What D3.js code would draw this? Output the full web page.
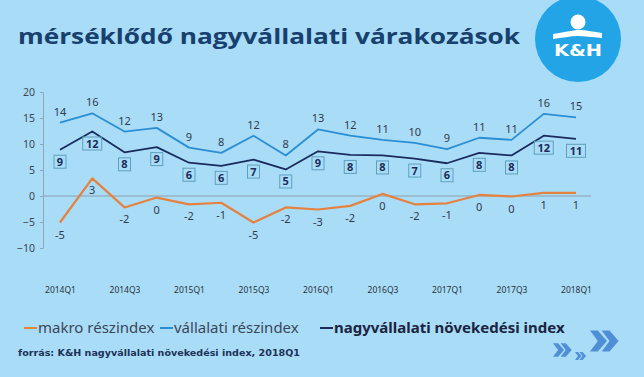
<!DOCTYPE html>
<html>
<head>
<meta charset="utf-8">
<script src="https://cdn.jsdelivr.net/npm/d3@7"></script>
<style>
  html, body { margin: 0; padding: 0; background: #a9dcf7; }
  svg { display: block; }
</style>
</head>
<body>
<svg id="chart" width="644" height="377"></svg>
<script>
// quarters 2014Q1 .. 2018Q1
var quarters = ["2014Q1","2014Q2","2014Q3","2014Q4","2015Q1","2015Q2","2015Q3","2015Q4",
                "2016Q1","2016Q2","2016Q3","2016Q4","2017Q1","2017Q2","2017Q3","2017Q4","2018Q1"];
var makro = [-5.1, 3.4, -2.2, -0.3, -1.6, -1.3, -5.1, -2.2, -2.6, -1.9, 0.4, -1.6, -1.4, 0.2, -0.1, 0.6, 0.6];
var vallalati = [14.1, 15.9, 12.4, 13.1, 9.3, 8.3, 11.6, 7.8, 12.8, 11.6, 10.8, 10.2, 9.0, 11.2, 10.8, 15.8, 15.1];
var nagy = [8.9, 12.4, 8.4, 9.4, 6.4, 5.8, 7.0, 5.1, 8.6, 7.9, 7.8, 7.2, 6.3, 8.3, 7.8, 11.6, 11.0];
var yTicks = [-10, -5, 0, 5, 10, 15, 20];
var legendNames = ["makro részindex", "vállalati részindex", "nagyvállalati növekedési index"];

var colOrange = "#e5823f", colLight = "#2a8ed3", colDark = "#1b2c5c";

var svg = d3.select("#chart");

// title
svg.append("text")
  .attr("x", 18).attr("y", 44)
  .attr("font-family", "Open Sans").attr("font-weight", "bold")
  .attr("font-size", 22).attr("fill", "#17406e")
  .attr("textLength", 502).attr("lengthAdjust", "spacingAndGlyphs")
  .text("mérséklődő nagyvállalati várakozások");

// K&H logo
var logo = svg.append("g").attr("transform", "translate(578,39)");
logo.append("circle").attr("r", 43).attr("fill", "#22a4e6");
logo.append("circle").attr("cx", 0).attr("cy", -17).attr("r", 7.5).attr("fill", "#fff");
logo.append("path")
  .attr("d", "M-25,-5 C-12,-7 -4,-9 2,-9 C8,-9 16,-7 24,-6 L24,-1 C14,-2 6,-3 0,-3 C-8,-3 -16,-1 -25,0 Z")
  .attr("fill", "#fff");
logo.append("text").attr("x", 0).attr("y", 17)
  .attr("text-anchor", "middle").attr("font-family", "DejaVu Sans").attr("font-weight", "bold")
  .attr("font-size", 16).attr("fill", "#fff")
  .attr("textLength", 48).attr("lengthAdjust", "spacingAndGlyphs")
  .text("K&H");

// scales
var x = d3.scalePoint().domain(quarters).range([60, 576]);
var y = d3.scaleLinear().domain([-10, 20]).range([248, 92]);

// y axis
var yAxis = svg.append("g").attr("transform", "translate(43,0)")
  .call(d3.axisLeft(y).tickValues(yTicks).tickSize(3).tickPadding(5));
yAxis.select(".domain").attr("stroke", "#8fa6b6");
yAxis.selectAll(".tick line").attr("stroke", "#8fa6b6");
yAxis.selectAll("text").attr("font-family", "Noto Sans").attr("font-size", 10.5).attr("fill", "#3b4654");

// zero line
svg.append("line")
  .attr("x1", 43).attr("x2", 591)
  .attr("y1", y(0)).attr("y2", y(0))
  .attr("stroke", "#8fa0ad").attr("stroke-width", 1);

// x axis labels (every second quarter)
var xAxis = svg.append("g").attr("transform", "translate(0,284)")
  .call(d3.axisBottom(x).tickValues(quarters.filter(function (d, i) { return i % 2 === 0; })).tickSize(0).tickPadding(3));
xAxis.select(".domain").remove();
xAxis.selectAll("text").attr("font-family", "Noto Sans").attr("font-size", 8.5).attr("fill", "#2a3340");

var line = d3.line().x(function (d, i) { return x(quarters[i]); }).y(function (d) { return y(d); });

function drawSeries(vals, color, width) {
  svg.append("path").datum(vals)
    .attr("d", line).attr("fill", "none")
    .attr("stroke", color).attr("stroke-width", width).attr("stroke-linejoin", "round");
}
drawSeries(makro, colOrange, 2.2);
drawSeries(vallalati, colLight, 1.8);
drawSeries(nagy, colDark, 1.8);

// labels
svg.append("g").selectAll("text").data(vallalati).enter().append("text")
  .attr("x", function (d, i) { return x(quarters[i]); })
  .attr("y", function (d) { return y(d) - 7; })
  .attr("text-anchor", "middle")
  .attr("font-family", "Noto Sans").attr("font-size", 11).attr("fill", "#2f3b4e")
  .text(function (d) { return Math.round(d); });

svg.append("g").selectAll("text").data(makro).enter().append("text")
  .attr("x", function (d, i) { return x(quarters[i]); })
  .attr("y", function (d) { return y(d) + 16; })
  .attr("text-anchor", "middle")
  .attr("font-family", "Noto Sans").attr("font-size", 11).attr("fill", "#2f3b4e")
  .text(function (d) { return Math.round(d); });

var boxes = svg.append("g").selectAll("g").data(nagy).enter().append("g")
  .attr("transform", function (d, i) { return "translate(" + x(quarters[i]) + "," + (y(d) + 12) + ")"; });
boxes.append("rect")
  .attr("x", function (d) { return Math.round(d) >= 10 ? -9.5 : -6; })
  .attr("width", function (d) { return Math.round(d) >= 10 ? 19 : 12; })
  .attr("y", -6.5).attr("height", 13)
  .attr("fill", "none").attr("stroke", "#5f9fbd").attr("stroke-width", 1);
boxes.append("text")
  .attr("y", 4).attr("text-anchor", "middle")
  .attr("font-family", "Noto Sans").attr("font-weight", "bold").attr("font-size", 11).attr("fill", colDark)
  .text(function (d) { return Math.round(d); });

// legend
var legendX = [24, 160, 320];
var legendCol = [colOrange, colLight, colDark];
var leg = svg.append("g").selectAll("g").data(legendNames).enter().append("g")
  .attr("transform", function (d, i) { return "translate(" + legendX[i] + ",328)"; });
leg.append("line").attr("x1", 0).attr("x2", 13).attr("y1", 0).attr("y2", 0)
  .attr("stroke", function (d, i) { return legendCol[i]; }).attr("stroke-width", 2);
leg.append("text").attr("x", 14).attr("y", 5)
  .attr("font-family", "Noto Sans").attr("font-size", 15)
  .attr("font-weight", function (d, i) { return i === 2 ? "bold" : "normal"; })
  .attr("fill", function (d, i) { return i === 2 ? "#1b2440" : "#3a4658"; })
  .text(function (d) { return d; });

// footer
svg.append("text").attr("x", 18).attr("y", 356)
  .attr("font-family", "DejaVu Sans").attr("font-weight", "bold")
  .attr("font-size", 9.5).attr("fill", "#1d3257")
  .attr("textLength", 282).attr("lengthAdjust", "spacingAndGlyphs")
  .text("forrás: K&H nagyvállalati növekedési index, 2018Q1");

// decorative arrows
function chevrons(left, cy, s) {
  var g = svg.append("g").attr("transform", "translate(" + left + "," + cy + ") scale(" + s + ")").attr("fill", "#4f8fd6");
  [0, 9].forEach(function (dx) {
    g.append("path").attr("d", "M" + dx + ",-8 L" + (dx + 6) + ",-8 L" + (dx + 13) + ",0 L" + (dx + 6) + ",8 L" + dx + ",8 L" + (dx + 6) + ",0 Z");
  });
}
chevrons(590, 341, 1.3);
chevrons(553, 350, 0.85);
chevrons(575, 356, 0.5);
</script>
</body>
</html>
